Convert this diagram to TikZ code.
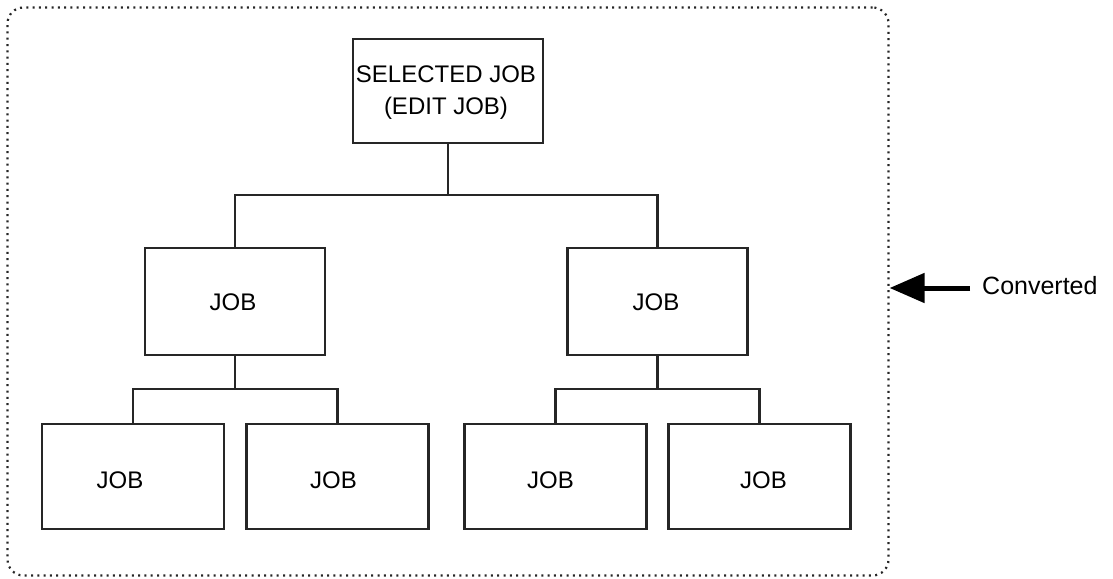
\documentclass[tikz,border=0pt]{standalone}
\usepackage{fontspec}
\setmainfont{Liberation Sans}
\usetikzlibrary{arrows.meta}
\begin{document}
\begin{tikzpicture}[x=1pt,y=-1pt,
  jobbox/.style={draw=black!85, line width=2.4pt, minimum width=182pt, minimum height=105pt, inner sep=0pt, outer sep=0pt},
  jobtxt/.style={font=\fontsize{24}{32}\selectfont, inner sep=0pt, text=black},
  conn/.style={draw=black!85, line width=2.2pt},
  frame/.style={draw=black!85, line width=2.2pt, dash pattern=on 2pt off 4.3pt, rounded corners=16pt, minimum width=881pt, minimum height=568pt, inner sep=0pt}]
\useasboundingbox (0,0) rectangle (1113,578);
\node[frame] (fr) at (448,291.5) {};
% top
\node[jobbox, minimum width=190pt, minimum height=104pt] (top) at (448,91) {};
\node[jobtxt, align=center] (toptxt) at (446,93) {SELECTED JOB\\(EDIT JOB)};
% middle
\node[jobbox, minimum width=180pt, minimum height=107pt] (ml) at (235,301.5) {};
\node[jobbox, minimum width=180pt, minimum height=107pt] (mr) at (657.5,301.5) {};
\node[jobtxt] (mlt) at (233,302.5) {JOB};
\node[jobtxt] (mrt) at (656,302.5) {JOB};
% bottom
\node[jobbox] (b1) at (133,476.5) {};
\node[jobbox] (b2) at (337.5,476.5) {};
\node[jobbox] (b3) at (555.5,476.5) {};
\node[jobbox] (b4) at (759.5,476.5) {};
\node[jobtxt] (b1t) at (120,480) {JOB};
\node[jobtxt] (b2t) at (333.5,480) {JOB};
\node[jobtxt] (b3t) at (550.5,480) {JOB};
\node[jobtxt] (b4t) at (763.5,480) {JOB};
% connectors
\draw[conn] (top.south) -- ++(0,52) -| (ml.north);
\draw[conn] (top.south) -- ++(0,52) -| (mr.north);
\draw[conn] (ml.south) -- ++(0,34) -| (b1.north);
\draw[conn] (ml.south) -- ++(0,34) -| (b2.north);
\draw[conn] (mr.south) -- ++(0,34) -| (b3.north);
\draw[conn] (mr.south) -- ++(0,34) -| (b4.north);
% converted
\node[jobtxt, anchor=west, font=\fontsize{25}{30}\selectfont] (conv) at (982,286) {Converted};
\coordinate (tip) at (fr.east |- 0,288);
\draw[line width=5pt, draw=black, -{Triangle[length=35pt,width=29pt]}] (970,288) -- (tip);
\end{tikzpicture}
\end{document}
